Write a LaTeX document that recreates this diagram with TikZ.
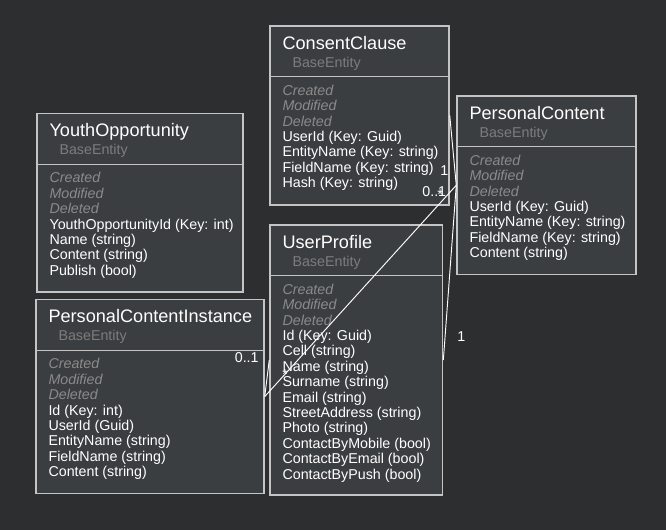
\documentclass[tikz,border=0pt]{standalone}
\usepackage{fontspec}
\setmainfont{Liberation Sans}
\usetikzlibrary{positioning, calc, fit}
\definecolor{bgdark}{HTML}{2D2E30}
\definecolor{boxfill}{HTML}{3B3E41}
\definecolor{boxline}{HTML}{C4C4C4}
\definecolor{dimtext}{HTML}{8A8A8A}
\definecolor{basetext}{HTML}{7C7C7C}

\begin{document}
\begin{tikzpicture}[x=0.75pt,y=-0.75pt,
    cls/.style={draw=boxline,fill=boxfill,line width=1.1pt,inner sep=0pt},
    sep/.style={draw=boxline,line width=1.1pt},
    ttl/.style={anchor=west,inner sep=0pt,text=white,font=\fontsize{13.6}{15}\selectfont,text height=9.7pt,text depth=0pt},
    base/.style={anchor=west,inner sep=0pt,text=basetext,font=\fontsize{10.7}{12}\selectfont,text height=7.6pt,text depth=0pt},
    meta/.style={base,text=dimtext,font=\fontsize{10.7}{12}\selectfont\itshape},
    attr/.style={base,text=white},
    lbl/.style={inner sep=0pt,text=white,font=\fontsize{10.7}{12}\selectfont},
    con/.style={draw=white,line width=0.7pt}]
    \useasboundingbox (0,0) rectangle (666,530);
    \fill[bgdark] (0,0) rectangle (666,530);
    %
    % ConsentClause
    \node[cls, fit={(270,26) (449,205)}] (cc) {};
    \node[ttl] (cc-t) at ($(cc.north west)+(13,17.5)$) {ConsentClause};
    \node[base] (cc-b) at ($(cc.north west)+(23,37)$) {BaseEntity};
    \draw[sep] ($(cc.north west)+(0,51.5)$) -- ($(cc.north east)+(0,51.5)$);
    \foreach \a [count=\i] in {Created,Modified,Deleted}
    \node[meta] (cc-\i) at ($(cc.north west)+(13,{49.6+15.4*\i})$) {\a};
    \foreach \a [count=\i from 4] in {UserId (Key: Guid),EntityName (Key: string),FieldName (Key: string),Hash (Key: string)}
    \node[attr] (cc-\i) at ($(cc.north west)+(13,{49.6+15.4*\i})$) {\a};
    %
    % PersonalContent
    \node[cls, fit={(457,96) (636,274.5)}] (pc) {};
    \node[ttl] (pc-t) at ($(pc.north west)+(13,17.5)$) {PersonalContent};
    \node[base] (pc-b) at ($(pc.north west)+(23,37)$) {BaseEntity};
    \draw[sep] ($(pc.north west)+(0,51.5)$) -- ($(pc.north east)+(0,51.5)$);
    \foreach \a [count=\i] in {Created,Modified,Deleted}
    \node[meta] (pc-\i) at ($(pc.north west)+(13,{49.6+15.4*\i})$) {\a};
    \foreach \a [count=\i from 4] in {UserId (Key: Guid),EntityName (Key: string),FieldName (Key: string),Content (string)}
    \node[attr] (pc-\i) at ($(pc.north west)+(13,{49.6+15.4*\i})$) {\a};
    %
    % YouthOpportunity
    \node[cls, fit={(37,113.6) (243,292)}] (yo) {};
    \node[ttl] (yo-t) at ($(yo.north west)+(13,17.5)$) {YouthOpportunity};
    \node[base] (yo-b) at ($(yo.north west)+(23,37)$) {BaseEntity};
    \draw[sep] ($(yo.north west)+(0,51.5)$) -- ($(yo.north east)+(0,51.5)$);
    \foreach \a [count=\i] in {Created,Modified,Deleted}
    \node[meta] (yo-\i) at ($(yo.north west)+(13,{49.6+15.4*\i})$) {\a};
    \foreach \a [count=\i from 4] in {YouthOpportunityId (Key: int),Name (string),Content (string),Publish (bool)}
    \node[attr] (yo-\i) at ($(yo.north west)+(13,{49.6+15.4*\i})$) {\a};
    %
    % PersonalContentInstance
    \node[cls, fit={(36,299.5) (264,493.6)}] (pci) {};
    \node[ttl] (pci-t) at ($(pci.north west)+(13,17.5)$) {PersonalContentInstance};
    \node[base] (pci-b) at ($(pci.north west)+(23,37)$) {BaseEntity};
    \draw[sep] ($(pci.north west)+(0,51.5)$) -- ($(pci.north east)+(0,51.5)$);
    \foreach \a [count=\i] in {Created,Modified,Deleted}
    \node[meta] (pci-\i) at ($(pci.north west)+(13,{49.6+15.4*\i})$) {\a};
    \foreach \a [count=\i from 4] in {Id (Key: int),UserId (Guid),EntityName (string),FieldName (string),Content (string)}
    \node[attr] (pci-\i) at ($(pci.north west)+(13,{49.6+15.4*\i})$) {\a};
    %
    % UserProfile
    \node[cls, fit={(270,225) (442.6,495)}] (up) {};
    \node[ttl] (up-t) at ($(up.north west)+(13,17.5)$) {UserProfile};
    \node[base] (up-b) at ($(up.north west)+(23,37)$) {BaseEntity};
    \draw[sep] ($(up.north west)+(0,51.5)$) -- ($(up.north east)+(0,51.5)$);
    \foreach \a [count=\i] in {Created,Modified,Deleted}
    \node[meta] (up-\i) at ($(up.north west)+(13,{49.6+15.4*\i})$) {\a};
    \foreach \a [count=\i from 4] in {Id (Key: Guid),Cell (string),Name (string),Surname (string),Email (string),StreetAddress (string),Photo (string),ContactByMobile (bool),ContactByEmail (bool),ContactByPush (bool)}
    \node[attr] (up-\i) at ($(up.north west)+(13,{49.6+15.4*\i})$) {\a};
    %
    % links
    \draw[con] (cc.east) -- (pc.west);
    \draw[con] (pc.west) -- (pci.east);
    \draw[con] (up.east) -- (pc.west);
    \draw[con] (pci.east) -- (up.west);
    %
    \node[lbl] (l-cc) at ($(pc.west)+(-12,-15)$) {1};
    \node[lbl] (l-pc) at ($(pc.west)+(-22,6)$) {0..1};
    \node[lbl] (l-st) at ($(pc.west)+(-16,9)$) {*};
    \node[lbl] (l-pci) at ($(pci.east)+(-18,-39)$) {0..1};
    \node[lbl] (l-upw) at ($(up.west)+(16,15)$) {*};
    \node[lbl] (l-upe) at ($(up.east)+(18,-23)$) {1};
\end{tikzpicture}
\end{document}
